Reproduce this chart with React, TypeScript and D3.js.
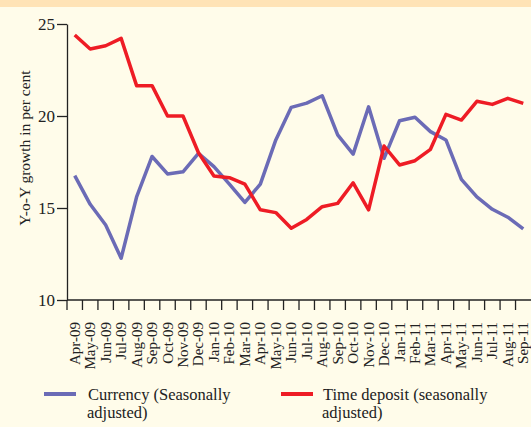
import { useRef, useEffect } from 'react';
import * as d3 from 'd3';

const MONTHS = [
  "Apr-09", "May-09", "Jun-09", "Jul-09", "Aug-09", "Sep-09", "Oct-09", "Nov-09", "Dec-09",
  "Jan-10", "Feb-10", "Mar-10", "Apr-10", "May-10", "Jun-10", "Jul-10", "Aug-10", "Sep-10",
  "Oct-10", "Nov-10", "Dec-10", "Jan-11", "Feb-11", "Mar-11", "Apr-11", "May-11", "Jun-11",
  "Jul-11", "Aug-11", "Sep-11"
];

const CURRENCY = [
  16.76, 15.2, 14.08, 12.27, 15.6, 17.8, 16.85, 16.97, 17.97,
  17.25, 16.3, 15.3, 16.3, 18.7, 20.47, 20.7, 21.1, 18.97,
  17.93, 20.5, 17.7, 19.74, 19.93, 19.15, 18.7, 16.56, 15.6,
  14.93, 14.5, 13.86
];

const TIME_DEPOSIT = [
  24.4, 23.64, 23.82, 24.22, 21.65, 21.65, 20.0, 20.0, 18.0,
  16.74, 16.65, 16.3, 14.9, 14.75, 13.9, 14.38, 15.07, 15.25,
  16.37, 14.9, 18.37, 17.34, 17.57, 18.19, 20.09, 19.78, 20.8,
  20.63, 20.96, 20.69
];

const Y_TICKS = [10, 15, 20, 25];

const BLUE = "#6b6bb6";
const RED = "#ee1c25";
const FONT = "'Liberation Serif', 'Times New Roman', serif";

function GrowthChart() {
  const svgRef = useRef<SVGSVGElement>(null);

  useEffect(() => {
    const svg = d3.select(svgRef.current);
    svg.selectAll("*").remove();

    const W = 531, H = 427;
    const left = 67, right = 531, top = 24, bottom = 300;

    svg.attr("width", W).attr("height", H);

    // background + top stripe
    svg.append("rect").attr("width", W).attr("height", H).attr("fill", "#fffcea");
    svg.append("rect").attr("width", W).attr("height", 7).attr("fill", "#ffe3b6");

    const x = d3.scaleBand().domain(MONTHS).range([left, right]);
    const y = d3.scaleLinear().domain([10, 25]).range([bottom, top]);

    const axisColor = "#222";

    // Y axis
    const yAxis = svg.append("g")
      .attr("transform", `translate(${left},0)`)
      .call(d3.axisLeft(y).tickValues(Y_TICKS).tickSize(10).tickSizeOuter(0).tickPadding(2));
    yAxis.select(".domain").attr("stroke", axisColor).attr("stroke-width", 1.3);
    yAxis.selectAll(".tick line").attr("stroke", axisColor).attr("stroke-width", 1.3);
    yAxis.selectAll("text")
      .attr("fill", "#222")
      .style("font-family", FONT)
      .style("font-size", "17px");

    // X axis, ticks at band edges
    svg.append("line")
      .attr("x1", left).attr("x2", right)
      .attr("y1", bottom).attr("y2", bottom)
      .attr("stroke", axisColor).attr("stroke-width", 1.3);

    const edges = MONTHS.map(m => x(m) as number);
    svg.append("g").selectAll("line")
      .data(edges)
      .enter()
      .append("line")
      .attr("x1", d => d).attr("x2", d => d)
      .attr("y1", bottom).attr("y2", bottom + 10)
      .attr("stroke", axisColor).attr("stroke-width", 1.3);

    svg.append("g").selectAll("text")
      .data(MONTHS)
      .enter()
      .append("text")
      .attr("transform", d => `translate(${(x(d) as number) + x.bandwidth() / 2 + 5},322) rotate(-90)`)
      .attr("text-anchor", "end")
      .attr("fill", "#222")
      .style("font-family", FONT)
      .style("font-size", "15px")
      .text(d => d);

    // Y axis title
    svg.append("text")
      .attr("transform", `translate(30,148) rotate(-90)`)
      .attr("text-anchor", "middle")
      .attr("fill", "#222")
      .style("font-family", FONT)
      .style("font-size", "15.5px")
      .text("Y-o-Y growth in per cent");

    // Lines
    const line = d3.line<number>()
      .x((d, i) => (x(MONTHS[i]) as number) + x.bandwidth() / 2)
      .y(d => y(d));

    svg.append("path")
      .datum(CURRENCY)
      .attr("d", line)
      .attr("fill", "none")
      .attr("stroke", BLUE)
      .attr("stroke-width", 3.5)
      .attr("stroke-linejoin", "round");

    svg.append("path")
      .datum(TIME_DEPOSIT)
      .attr("d", line)
      .attr("fill", "none")
      .attr("stroke", RED)
      .attr("stroke-width", 3.5)
      .attr("stroke-linejoin", "round");

    // Legend
    const legend = [
      { color: BLUE, x: 44, tx: 87, lines: ["Currency (Seasonally", "adjusted)"] },
      { color: RED, x: 281, tx: 322, lines: ["Time deposit (seasonally", "adjusted)"] }
    ];
    legend.forEach(item => {
      svg.append("line")
        .attr("x1", item.x).attr("x2", item.x + 32)
        .attr("y1", 394).attr("y2", 394)
        .attr("stroke", item.color).attr("stroke-width", 4);
      item.lines.forEach((t, i) => {
        svg.append("text")
          .attr("x", item.tx + (i === 1 ? 0 : 1))
          .attr("y", 400 + i * 18)
          .attr("fill", "#222")
          .style("font-family", FONT)
          .style("font-size", "16.5px")
          .text(t);
      });
    });
  }, []);

  return <svg ref={svgRef} style={{ position: "absolute", left: 0, top: 0, display: "block" }}></svg>;
}

export default function App() {
  return <GrowthChart />;
}
